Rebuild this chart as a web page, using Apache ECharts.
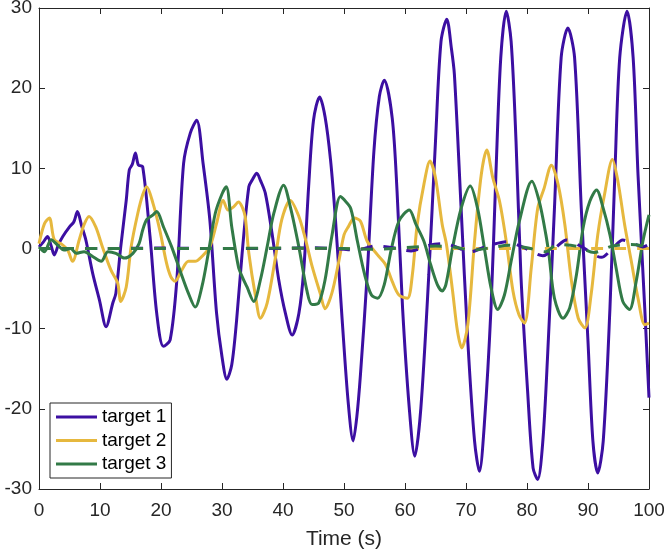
<!DOCTYPE html>
<html>
<head>
<meta charset="utf-8">
<script src="https://cdn.jsdelivr.net/npm/echarts@6/dist/echarts.min.js"></script>
<style>
html,body{margin:0;padding:0;background:#fff;}
#chart{width:664px;height:551px;}
</style>
</head>
<body>
<div id="chart"></div>
<script>
// ---- data ----
const xTicks = [0,10,20,30,40,50,60,70,80,90,100];
const yTicks = [-30,-20,-10,0,10,20,30];
const names = ['target 1','target 2','target 3'];

const t1 = [0,0.7,1.4,2.0,2.5,3.2,3.9,5.0,5.7,6.3,7.0,7.7,8.8,9.9,11.0,12.1,12.6,13.4,14.3,14.8,15.3,15.8,16.3,17.0,18.2,19.3,20.4,21.5,22.6,23.7,24.8,25.85,26.9,28.0,29.1,30.0,30.8,31.6,32.4,33.3,34.4,35.0,35.7,36.3,37.1,38.2,39.3,40.4,41.5,42.6,43.4,44.2,45.0,46.0,46.9,47.8,48.6,49.7,50.7,51.5,52.1,52.7,53.8,54.9,55.8,56.6,57.9,58.7,59.6,60.7,61.6,62.6,63.9,65.0,65.9,66.85,67.6,68.1,69.2,70.3,71.4,72.2,73.0,74.1,74.9,75.7,76.6,77.4,78.2,79.0,80.1,81.0,81.75,82.6,83.4,84.5,85.6,86.7,87.8,88.9,90.0,90.8,91.6,92.5,93.6,94.4,95.2,96.4,97.4,98.2,99.3,100];
const v1 = [0.2,0.8,1.5,0.3,-0.8,0.5,1.5,2.7,3.3,4.6,2.8,1.0,-3.1,-6.4,-9.75,-6.8,-5.6,0.2,6.0,9.8,10.5,11.9,10.4,10.2,1.5,-8.1,-12.2,-11.4,-3.9,10.6,14.4,16.0,10.6,3.6,-8.0,-13.5,-16.3,-14.5,-8.9,-0.6,7.7,8.6,9.4,8.5,6.9,1.9,-3.9,-8.1,-10.8,-8.1,-2.7,7.7,16.0,18.9,16.4,11.0,3.6,-8.9,-19.3,-24.0,-21.0,-15.7,-3.3,12.1,19.0,21.0,16.3,7.1,-7.4,-19.9,-25.9,-19.9,-3.3,13.4,25.8,28.6,25.0,21.7,5.0,-11.6,-24.0,-27.8,-22.0,-7.4,9.2,23.8,29.6,25.8,13.4,-3.3,-17.8,-27.4,-28.8,-24.0,-13.0,5.0,23.8,27.5,23.8,5.0,-11.6,-24.0,-28.0,-24.0,-7.4,9.2,23.8,29.6,23.8,9.2,-7.4,-18.6];

const t2 = [0,0.9,1.7,2.5,3.6,4.7,5.5,6.6,7.4,8.2,9.3,10.4,11.8,12.9,13.4,14.3,15.1,16.2,17.0,17.65,18.7,19.8,20.9,21.6,22.3,23.4,24.5,25.6,26.7,28.0,29.1,30.2,31.0,31.9,32.7,33.3,33.8,34.4,35.5,36.3,37.4,38.7,39.8,41.2,42.6,43.7,44.8,46.1,46.9,48.0,49.1,50.0,50.7,51.7,52.7,53.8,55.5,56.8,57.9,59.0,60.4,61.2,62.0,63.1,64.1,65.0,66.1,66.8,67.8,68.6,69.3,70.3,71.4,72.5,73.4,74.4,75.5,76.6,77.7,78.7,79.6,80.7,81.75,82.8,84.0,85.1,86.2,87.3,88.4,89.5,90.5,91.6,92.7,94.0,94.9,96.0,97.1,98.2,99.3,100];
const v2 = [0.6,3.1,3.8,1.1,0.6,-0.2,-1.6,1.1,3.0,4.0,2.7,0.2,-2.7,-4.3,-6.6,-4.8,0.2,4.4,6.7,7.7,5.6,2.3,-1.8,-3.5,-4.1,-2.7,-1.6,-1.6,-1.0,0.2,3.1,6.0,4.8,5.2,5.8,5.2,4.0,-0.6,-6.0,-8.7,-6.8,-1.4,3.6,6.0,4.0,1.1,-2.3,-5.6,-7.5,-5.6,-1.8,1.7,2.7,3.8,3.4,0.9,-0.8,-2.0,-4.1,-5.8,-6.2,-3.3,3.0,8.0,10.9,8.8,3.0,0.5,-5.3,-10.3,-12.4,-9.5,0.9,9.2,12.3,8.8,5.9,0.9,-5.3,-8.3,-9.3,-2.4,5.0,7.5,10.4,8.0,3.0,-4.1,-8.7,-9.9,-5.8,1.7,6.7,11.1,8.4,3.0,-1.6,-6.2,-9.5,-9.3];

const t3 = [0,0.9,2.0,3.1,4.1,5.2,6.1,7.4,8.8,10.2,11.3,12.6,14.0,15.4,16.4,17.0,17.65,18.7,19.3,20.4,21.75,23.1,24.5,25.6,26.7,27.75,28.9,30.0,30.7,31.6,32.7,33.3,34.1,35.2,36.3,37.4,38.5,40.1,41.2,42.6,43.9,44.75,45.85,46.9,48.0,49.4,50.0,51.1,52.2,53.4,54.5,55.5,56.6,57.7,59.0,60.7,61.8,63.1,64.2,65.3,66.1,66.7,67.8,69.2,70.7,71.9,73.0,74.1,75.2,76.3,77.4,78.75,80.8,82.0,83.1,83.6,84.5,85.9,87.0,88.1,89.2,90.3,91.4,92.5,93.6,94.6,95.7,96.8,97.9,99.0,100];
const v3 = [0.2,-0.4,1.1,0.4,-0.2,0.0,-0.6,-0.4,-1.0,-1.6,-0.4,-0.6,-1.2,-0.6,0.6,2.3,3.6,4.2,4.6,2.7,0.2,-2.7,-5.6,-7.3,-4.8,-0.6,4.4,6.8,7.7,2.7,-2.3,-3.5,-4.8,-6.6,-3.9,0.2,4.4,7.9,5.2,0.2,-5.2,-7.0,-6.8,-3.9,1.5,6.5,6.1,5.0,0.9,-3.3,-5.8,-6.2,-4.5,-0.3,3.4,4.8,3.0,0.9,-2.0,-4.5,-5.3,-4.5,0.1,5.0,7.8,5.0,0.1,-4.9,-7.6,-5.8,-1.6,3.4,8.4,5.9,1.7,-0.8,-6.2,-8.7,-7.4,-3.3,2.6,5.9,7.3,5.0,1.7,-2.4,-6.6,-7.6,-4.1,0.9,4.2];

// dashed reference curves (near zero)
const td1 = [0,10,20,30,40,45,50,52,55,58,61,64,66.5,68,70.7,73.5,76.7,79.5,82.6,84.5,86.5,89,92.2,94,95.7,97.5,99,100];
const vd1 = [0,0,0.05,0,0,0.1,-0.1,-0.2,0.3,0.1,-0.3,0.4,0.6,0.3,-0.4,0.3,0.85,0.1,-0.9,0.0,1.05,0.2,-1.1,0.0,1.05,0.6,0.2,0.5];
const td2 = [0,20,40,60,80,100];
const vd2 = [0,0,0,0,0,0];
const td3 = [0,10,20,30,40,50,55,60,65,68,71,74,77,80,83,85,88,91,94,97,100];
const vd3 = [0,0,0,0,0.05,0,-0.1,0.1,0.3,0.2,-0.2,0.1,0.4,0.1,-0.4,0.5,0.3,-0.5,0.3,0.5,0.2];

const colors = ['#3c0fa2','#e6b83e','#327a47'];

function pairs(t, v){ return t.map((x,i)=>[x, v[i]]); }

const axisColor = '#262626';
const font = 'Liberation Sans, Arial, Helvetica, sans-serif';

const solid = [[t1,v1],[t2,v2],[t3,v3]].map((d,i)=>({
  name: names[i], type:'line', data: pairs(d[0], d[1]),
  showSymbol:false, symbol:'none', smooth:0.3,
  lineStyle:{color:colors[i], width:3},
  itemStyle:{color:colors[i]},
  z: 2
}));
const dashed = [[td2,vd2,1],[td1,vd1,0],[td3,vd3,2]].map((d)=>({
  name: names[d[2]] + ' ref', type:'line', data: pairs(d[0], d[1]),
  showSymbol:false, symbol:'none', smooth:0.3,
  lineStyle:{color:colors[d[2]], width:3, type:[12,11]},
  itemStyle:{color:colors[d[2]]},
  z: 3
}));

const chart = echarts.init(document.getElementById('chart'), null, {renderer:'canvas'});
chart.setOption({
  animation:false,
  backgroundColor:'#fff',
  grid:{left:39, right:15, top:8, bottom:62, containLabel:false, outerBoundsMode:'none'},
  xAxis:[{
    type:'value', min:xTicks[0], max:xTicks[xTicks.length-1], interval:10,
    axisLine:{show:true, onZero:false, lineStyle:{color:axisColor, width:1}},
    axisTick:{show:true, inside:true, length:6, lineStyle:{color:axisColor}},
    axisLabel:{color:axisColor, fontSize:19, fontFamily:font, margin:12},
    splitLine:{show:false},
    name:'Time (s)', nameLocation:'middle', nameGap:40,
    nameTextStyle:{color:axisColor, fontSize:21, fontFamily:font}
  },{
    type:'value', position:'top', min:xTicks[0], max:xTicks[xTicks.length-1], interval:10,
    axisLine:{show:true, onZero:false, lineStyle:{color:axisColor, width:1}},
    axisTick:{show:true, inside:true, length:6, lineStyle:{color:axisColor}},
    axisLabel:{show:false}, splitLine:{show:false}
  }],
  yAxis:[{
    type:'value', min:yTicks[0], max:yTicks[yTicks.length-1], interval:10,
    axisLine:{show:true, onZero:false, lineStyle:{color:axisColor, width:1}},
    axisTick:{show:true, inside:true, length:6, lineStyle:{color:axisColor}},
    axisLabel:{color:axisColor, fontSize:19, fontFamily:font, margin:7},
    splitLine:{show:false}
  },{
    type:'value', position:'right', min:yTicks[0], max:yTicks[yTicks.length-1], interval:10,
    axisLine:{show:true, onZero:false, lineStyle:{color:axisColor, width:1}},
    axisTick:{show:true, inside:true, length:6, lineStyle:{color:axisColor}},
    axisLabel:{show:false}, splitLine:{show:false}
  }],
  legend:{
    data: names, orient:'vertical', left:50, top:403,
    backgroundColor:'#fff', borderColor:axisColor, borderWidth:1,
    padding:[4,5,4,6], itemGap:3.5, itemWidth:41, itemHeight:3, icon:'rect',
    textStyle:{color:'#000', fontSize:19, fontFamily:font, lineHeight:20},
    z: 10
  },
  series: solid.concat(dashed)
});
</script>
</body>
</html>
